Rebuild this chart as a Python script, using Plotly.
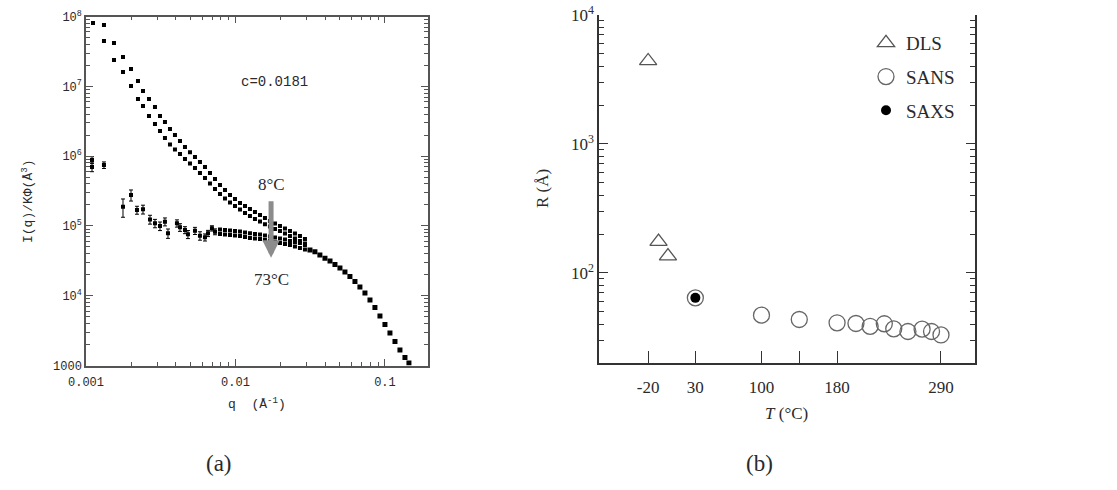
import math
import plotly.graph_objects as go

# ---------------- Panel (a) data : I(q)/K(phi) vs q ----------------
q_t1 = [0.001319, 0.001539, 0.001768, 0.002, 0.002227, 0.002406, 0.002639, 0.002894, 0.003126, 0.003375,
        0.003646, 0.003937, 0.004254, 0.004594, 0.004962, 0.005359, 0.005786, 0.006252, 0.006752, 0.007294,
        0.007878, 0.008508, 0.009191, 0.009926, 0.01072, 0.01158, 0.0125, 0.0135, 0.01459, 0.01575,
        0.01701, 0.01838, 0.01985, 0.02144, 0.02315, 0.025, 0.027, 0.02917]
I_t1 = [7.55e7, 4.17e7, 2.63e7, 1.77e7, 1.19e7, 8.57e6, 6.58e6, 5.05e6, 3.75e6, 3.08e6,
        2.45e6, 2.01e6, 1.65e6, 1.35e6, 1.14e6, 9.71e5, 8.23e5, 6.98e5, 5.73e5, 4.70e5,
        3.85e5, 3.27e5, 2.77e5, 2.43e5, 2.13e5, 1.93e5, 1.75e5, 1.58e5, 1.43e5, 1.30e5,
        1.18e5, 1.08e5, 9.97e4, 9.18e4, 8.45e4, 7.78e4, 7.17e4, 6.49e4]

q_t2 = [0.001114, 0.001319, 0.001539, 0.001768, 0.002, 0.002227, 0.002406, 0.002639, 0.002894, 0.003126,
        0.003375, 0.003646, 0.003937, 0.004254, 0.004594, 0.004962, 0.005359, 0.005786, 0.006252, 0.006752,
        0.007294, 0.007878, 0.008508, 0.009191, 0.009926, 0.01072, 0.01158, 0.0125, 0.0135, 0.01459,
        0.01575, 0.01701, 0.01838, 0.01985, 0.02144, 0.02315, 0.025, 0.027, 0.02917]
I_t2 = [8.07e7, 4.46e7, 2.38e7, 1.60e7, 1.01e7, 6.58e6, 5.22e6, 3.75e6, 2.88e6, 2.29e6,
        1.82e6, 1.47e6, 1.24e6, 1.07e6, 9.09e5, 7.83e5, 6.75e5, 5.73e5, 4.86e5, 4.05e5,
        3.38e5, 2.86e5, 2.47e5, 2.16e5, 1.93e5, 1.72e5, 1.53e5, 1.39e5, 1.26e5, 1.16e5,
        1.06e5, 9.80e4, 9.03e4, 8.45e4, 7.78e4, 7.17e4, 6.60e4, 6.08e4, 5.60e4]

# high-temperature curves: low-q points with error bars, then smooth band
q_t3_lo = [0.001097, 0.001319, 0.002, 0.002406, 0.002894, 0.003375, 0.00406, 0.004594, 0.005359, 0.00655, 0.00696]
I_t3_lo = [8.8e5, 7.45e5, 2.77e5, 1.73e5, 1.09e5, 1.15e5, 1.09e5, 8.74e4, 8.53e4, 7.83e4, 9.24e4]
err_t3_lo = [1.0e5, 0.8e5, 5.0e4, 2.5e4, 1.5e4, 1.5e4, 1.3e4, 1.0e4, 1.0e4, 8.0e3, 8.0e3]

q_t4_lo = [0.001097, 0.001768, 0.002193, 0.00268, 0.003126, 0.003536, 0.004254, 0.00481, 0.005786, 0.006252, 0.007294]
I_t4_lo = [6.98e5, 1.88e5, 1.69e5, 1.24e5, 9.97e4, 7.83e4, 9.55e4, 7.58e4, 7.24e4, 6.87e4, 8.26e4]
err_t4_lo = [1.0e5, 5.5e4, 2.2e4, 1.8e4, 1.4e4, 1.2e4, 1.2e4, 1.0e4, 1.0e4, 8.0e3, 8.0e3]

q_band = [0.007878, 0.008508, 0.009191, 0.009926, 0.01072, 0.01158, 0.0125, 0.0135, 0.01459, 0.01575,
          0.01701, 0.01838, 0.01985, 0.02144, 0.02315, 0.025, 0.027, 0.02917]
I_t3 = [8.88e4, 8.74e4, 8.6e4, 8.45e4, 8.3e4, 8.04e4, 7.83e4, 7.66e4, 7.5e4, 7.3e4,
        7.05e4, 6.8e4, 6.6e4, 6.38e4, 6.08e4, 5.88e4, 5.69e4, 5.33e4]
I_t4 = [7.66e4, 7.5e4, 7.41e4, 7.28e4, 7.17e4, 6.93e4, 6.71e4, 6.6e4, 6.49e4, 6.28e4,
        6.08e4, 5.88e4, 5.69e4, 5.51e4, 5.33e4, 5.08e4, 4.83e4, 4.6e4]

# common high-q tail (all temperatures coincide)
q_tail = [0.0315, 0.034, 0.0367, 0.0397, 0.0429, 0.0463, 0.05, 0.054, 0.0583, 0.063, 0.068,
          0.0735, 0.0794, 0.0857, 0.0926, 0.1, 0.108, 0.1167, 0.126, 0.1361, 0.1447]
I_tail = [4.52e4, 4.27e4, 3.83e4, 3.43e4, 3.14e4, 2.80e4, 2.49e4, 2.19e4, 1.88e4, 1.60e4, 1.33e4,
          1.09e4, 8.68e3, 6.78e3, 5.12e3, 3.87e3, 2.92e3, 2.21e3, 1.67e3, 1.30e3, 1.09e3]

qa_ticks = [0.001, 0.01, 0.1]
qa_ticktext = ["0.001", "0.01", "0.1"]
Ia_ticks = [1e3, 1e4, 1e5, 1e6, 1e7, 1e8]
Ia_ticktext = ["1000", "10<sup>4</sup>", "10<sup>5</sup>", "10<sup>6</sup>", "10<sup>7</sup>", "10<sup>8</sup>"]

# ---------------- Panel (b) data : R vs T ----------------
T_dls = [-20, -9, 1]
R_dls = [4400, 175, 135]
T_sans = [30, 100, 140, 180, 200, 215, 230, 240, 255, 270, 280, 290]
R_sans = [64, 47, 43.5, 41, 40.5, 38.5, 40.3, 36.8, 35.1, 36.6, 35.1, 33]
T_saxs = [30]
R_saxs = [64]

Tb_ticks = [-20, 30, 100, 140, 180, 290]
Tb_ticktext = ["-20", "30", "100", "", "180", "290"]
Rb_ticks = [1e2, 1e3, 1e4]
Rb_ticktext = ["10<sup>2</sup>", "10<sup>3</sup>", "10<sup>4</sup>"]

W, H = 1117, 490
def px(x):
    return x / W
def py(y):
    return 1 - y / H

MONO = "Liberation Mono"
SERIF = "Liberation Serif"
INK = "#2a2a2a"

fig = go.Figure()

mk = dict(symbol="square", size=4, color="black")
for qq, ii in [(q_t1, I_t1), (q_t2, I_t2), (q_band, I_t3), (q_band, I_t4)]:
    fig.add_trace(go.Scatter(x=qq, y=ii, mode="markers", marker=mk, showlegend=False,
                             xaxis="x", yaxis="y"))
fig.add_trace(go.Scatter(x=q_tail, y=I_tail, mode="markers", marker=dict(symbol="square", size=5, color="black"),
                         showlegend=False, xaxis="x", yaxis="y"))
for qq, ii, ee in [(q_t3_lo, I_t3_lo, err_t3_lo), (q_t4_lo, I_t4_lo, err_t4_lo)]:
    fig.add_trace(go.Scatter(x=qq, y=ii, mode="markers", marker=mk, showlegend=False,
                             error_y=dict(type="data", array=ee, color="black", thickness=1, width=2),
                             xaxis="x", yaxis="y"))

# panel (b)
fig.add_trace(go.Scatter(x=T_dls, y=R_dls, mode="markers", name="DLS", legendgroup="a",
                         marker=dict(symbol="triangle-up-open", size=15, color="#555",
                                     line=dict(width=1.3, color="#555")),
                         xaxis="x2", yaxis="y2"))
fig.add_trace(go.Scatter(x=T_sans, y=R_sans, mode="markers", name="SANS", legendgroup="b",
                         marker=dict(symbol="circle-open", size=16, color="#666",
                                     line=dict(width=1.3, color="#666")),
                         xaxis="x2", yaxis="y2"))
fig.add_trace(go.Scatter(x=T_saxs, y=R_saxs, mode="markers", name="SAXS", legendgroup="c",
                         marker=dict(symbol="circle", size=10, color="black"),
                         xaxis="x2", yaxis="y2"))

minor_a_x = [m * 10 ** e for e in (-3, -2, -1) for m in range(2, 10) if m * 10 ** e < 0.19]
minor_a_y = [m * 10 ** e for e in range(3, 8) for m in range(2, 10)]
minor_b_y = [m * 10 ** e for e in (1, 2, 3) for m in range(2, 10) if m * 10 ** e >= 21]

axis_common = dict(showgrid=False, zeroline=False, showline=True, ticks="inside", automargin=False)

fig.update_layout(
    width=W, height=H, margin=dict(l=0, r=0, t=0, b=0, autoexpand=False),
    paper_bgcolor="white", plot_bgcolor="white",
    xaxis=dict(**axis_common, type="log", range=[-3, -0.712], domain=[px(86), px(428)], anchor="y",
               linecolor="#555", linewidth=1.5, mirror="ticks", ticklen=7, tickcolor="#555",
               tickvals=qa_ticks, ticktext=qa_ticktext, tickfont=dict(family=MONO, size=12, color=INK),
               ticklabelstandoff=4,
               minor=dict(tickmode="array", tickvals=minor_a_x, ticks="inside", ticklen=4, tickcolor="#555")),
    yaxis=dict(**axis_common, type="log", range=[3, 8], domain=[py(365.5), py(16.5)], anchor="x",
               linecolor="#555", linewidth=1.5, mirror="ticks", ticklen=7, tickcolor="#555",
               tickvals=Ia_ticks, ticktext=Ia_ticktext, tickfont=dict(family=MONO, size=12, color=INK),
               minor=dict(tickmode="array", tickvals=minor_a_y, ticks="inside", ticklen=4, tickcolor="#555")),
    xaxis2=dict(**axis_common, range=[-72, 326], domain=[px(599), px(975)], anchor="y2",
                linecolor="#333", linewidth=1.5, ticklen=12, tickcolor="#333",
                tickvals=Tb_ticks, ticktext=Tb_ticktext, tickfont=dict(family=SERIF, size=17, color=INK),
                ticklabelstandoff=8),
    xaxis3=dict(showgrid=False, zeroline=False, showline=True, ticks="inside", overlaying="x2",
                side="top", anchor="y2", range=[-72, 326], linecolor="#333", linewidth=1.5,
                tickvals=[30, 230], ticklen=10, tickcolor="#333", showticklabels=False, automargin=False,
                minor=dict(tickmode="linear", tick0=-50, dtick=20, ticks="inside", ticklen=4, tickcolor="#333")),
    yaxis2=dict(**axis_common, type="log", range=[1.301, 4], domain=[py(363), py(15)], anchor="x2",
                linecolor="#333", linewidth=1.5, mirror="ticks", ticklen=9, tickcolor="#333",
                tickvals=Rb_ticks, ticktext=Rb_ticktext, tickfont=dict(family=SERIF, size=17, color=INK),
                minor=dict(tickmode="array", tickvals=minor_b_y, ticks="inside", ticklen=5, tickcolor="#333")),
    legend=dict(x=px(866), y=py(24), xanchor="left", yanchor="top", bgcolor="rgba(0,0,0,0)",
                font=dict(family=SERIF, size=19, color=INK), traceorder="grouped", tracegroupgap=6,
                itemsizing="trace"),
)

ann = [
    dict(text="c=0.0181", x=px(274), y=py(82), font=dict(family=MONO, size=14, color=INK)),
    dict(text="8°C", x=px(271), y=py(184), font=dict(family=SERIF, size=17, color=INK)),
    dict(text="73°C", x=px(271), y=py(279), font=dict(family=SERIF, size=17, color=INK)),
    dict(text="I(q)/KΦ(Å<sup>3</sup>)", x=px(27), y=py(201), textangle=-90,
         font=dict(family=MONO, size=13, color=INK)),
    dict(text="q  (Å<sup>-1</sup>)", x=px(257), y=py(403), font=dict(family=MONO, size=13, color=INK)),
    dict(text="(a)", x=px(219), y=py(463), font=dict(family=SERIF, size=23, color=INK)),
    dict(text="R (Å)", x=px(543), y=py(189), textangle=-90, font=dict(family=SERIF, size=17, color=INK)),
    dict(text="<i>T</i> (°C)", x=px(786), y=py(413), font=dict(family=SERIF, size=17, color=INK)),
    dict(text="(b)", x=px(759), y=py(463), font=dict(family=SERIF, size=23, color=INK)),
]
for a in ann:
    fig.add_annotation(xref="paper", yref="paper", showarrow=False, xanchor="center", yanchor="middle", **a)

# grey arrow from 8°C to 73°C
fig.add_annotation(xref="x", yref="y", x=math.log10(0.0173), y=math.log10(3.5e4), ax=0, ay=-58,
                   text="", showarrow=True, arrowhead=2, arrowsize=0.7, arrowwidth=5, arrowcolor="#8c8c8c")

fig.write_html("out.html")
